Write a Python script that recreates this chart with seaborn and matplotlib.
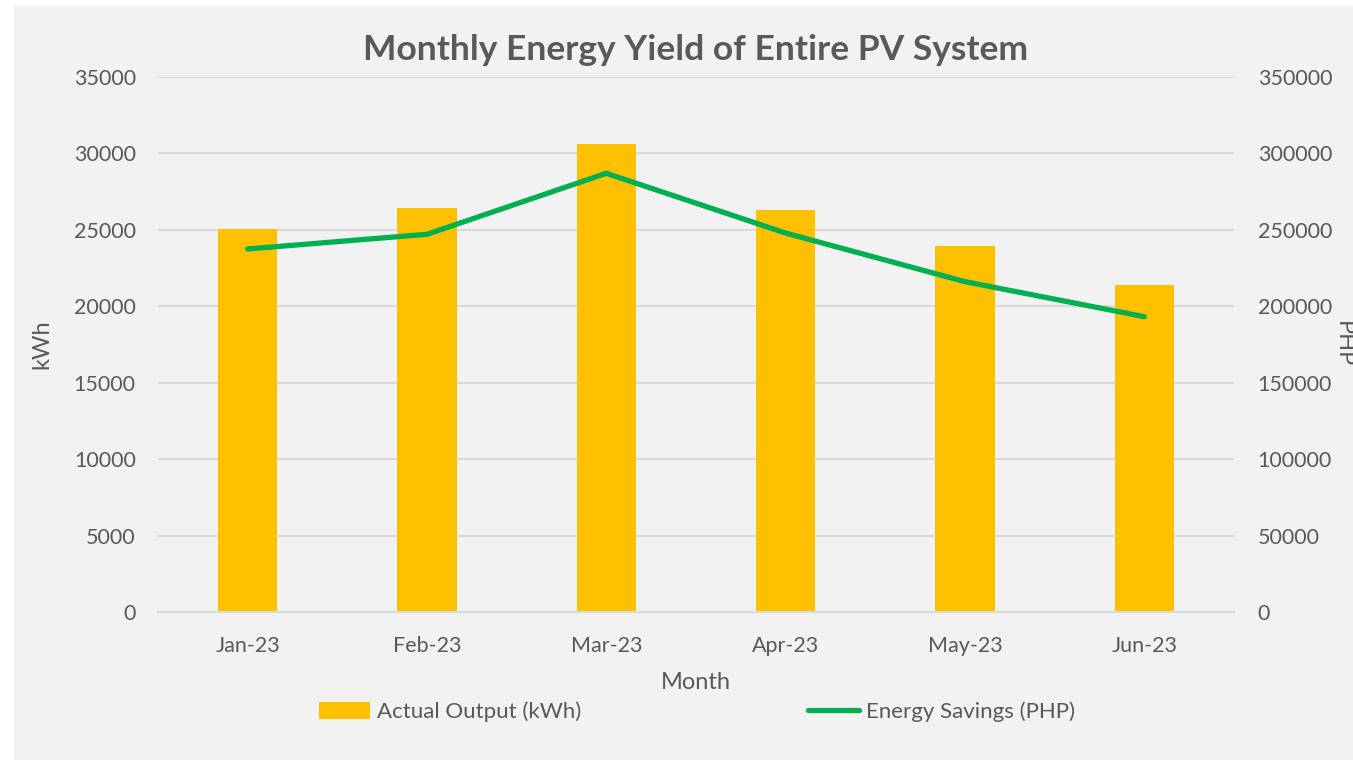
import numpy as np
import pandas as pd
import matplotlib
matplotlib.use("Agg")
import matplotlib.pyplot as plt
import seaborn as sns
from matplotlib.patches import Rectangle

# values
months = ["Jan-23", "Feb-23", "Mar-23", "Apr-23", "May-23", "Jun-23"]
actual_kwh = [25050, 26420, 30620, 26300, 23970, 21390]
savings_php = [237500, 247100, 287000, 247900, 216100, 193200]

left_ticks = [0, 5000, 10000, 15000, 20000, 25000, 30000, 35000]
right_ticks = [0, 50000, 100000, 150000, 200000, 250000, 300000, 350000]

df = pd.DataFrame({"Month": months, "kWh": actual_kwh, "PHP": savings_php})

sns.set_theme(style="white")
plt.rcParams["font.family"] = ["Lato", "DejaVu Sans"]

TXT = "#595959"
GRID = "#d9d9d9"
BG = "#f2f2f2"

fig = plt.figure(figsize=(13.53, 7.6), dpi=100, facecolor="white")
fig.patches.append(Rectangle((14 / 1353, 0), 1, 754 / 760, transform=fig.transFigure,
                             facecolor=BG, edgecolor="none", zorder=-10))
ax = fig.add_axes([158 / 1353, 148 / 760, 1076 / 1353, 535 / 760])
ax.set_facecolor("none")

sns.barplot(data=df, x="Month", y="kWh", color="#ffc000", width=0.33,
            saturation=1, linewidth=0, ax=ax, label="Actual Output (kWh)", zorder=2)
if ax.get_legend() is not None:
    ax.get_legend().remove()
ax.set_ylim(0, 35000)
ax.set_yticks(left_ticks)
ax.set_xlim(-0.5, len(months) - 0.5)
ax.grid(axis="y", color=GRID, linewidth=1.5, zorder=0)
ax.set_axisbelow(True)
for s in ["top", "right", "left"]:
    ax.spines[s].set_visible(False)
ax.spines["bottom"].set_color(GRID)
ax.spines["bottom"].set_linewidth(1.5)
ax.tick_params(axis="x", which="major", length=0, pad=17, labelsize=15.5, labelcolor=TXT)
ax.set_xticks(np.arange(-0.5, len(months), 1.0), minor=True)
ax.tick_params(axis="x", which="minor", length=7, width=1.5, color=GRID)
ax.tick_params(axis="y", length=0, pad=16, labelsize=15.5, labelcolor=TXT)
ax.set_xlabel("Month", fontsize=17, color=TXT, labelpad=12)
ax.set_ylabel("kWh", fontsize=17, color=TXT, labelpad=15)

ax2 = ax.twinx()
sns.lineplot(x=np.arange(len(months)), y=savings_php, color="#00b050", linewidth=3.8,
             ax=ax2, label="Energy Savings (PHP)", solid_capstyle="round",
             solid_joinstyle="round", legend=False, zorder=3)
ax2.set_ylim(0, 350000)
ax2.set_yticks(right_ticks)
ax2.set_xlim(-0.5, len(months) - 0.5)
for s in ["top", "right", "left", "bottom"]:
    ax2.spines[s].set_visible(False)
ax2.tick_params(axis="y", length=0, pad=17, labelsize=15.5, labelcolor=TXT)
# the reference crops this label at the right edge
ax2.set_ylabel("PHP", fontsize=17, color=TXT, rotation=270, labelpad=16)

ax.set_title("Monthly Energy Yield of Entire PV System", fontsize=25.5, fontweight="bold",
             color=TXT, pad=12)

h1, l1 = ax.get_legend_handles_labels()
h2, l2 = ax2.get_legend_handles_labels()
leg = fig.legend(h1 + h2, l1 + l2, loc="center", bbox_to_anchor=(697 / 1353, 1 - 712 / 760),
                 ncol=2, frameon=False, fontsize=16, labelcolor=TXT, columnspacing=10.2,
                 handlelength=2.3, handletextpad=0.3, handleheight=0.8)

fig.savefig("out.png", dpi=100, facecolor="white")
